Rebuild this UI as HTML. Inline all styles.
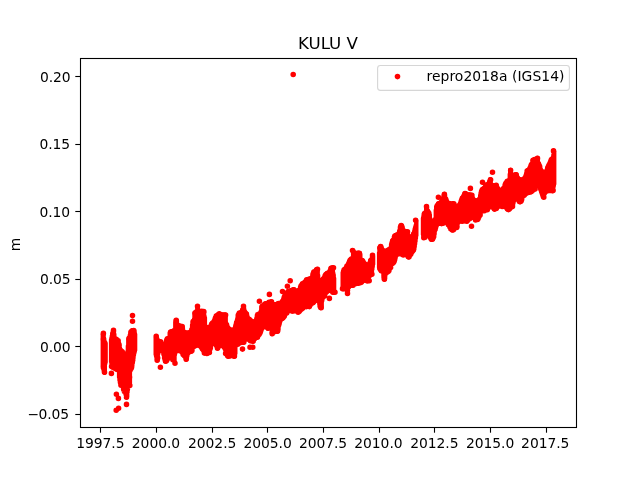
<!DOCTYPE html>
<html><head><meta charset="utf-8"><title>KULU V</title>
<style>
html,body{margin:0;padding:0;background:#fff;}
svg{display:block;}
text{font-family:"DejaVu Sans","Liberation Sans",sans-serif;fill:#000;}
.t{font-size:13.89px;letter-spacing:-0.05px;}
</style></head><body>
<svg width="640" height="480" viewBox="0 0 640 480">
<rect width="640" height="480" fill="#fff"/>
<path fill="none" stroke="#f00" stroke-width="4" stroke-linecap="round" d="M102.6,334.3V365.9M103.0,333.2V368.1M103.4,333.0V370.3M103.8,333.6V371.9M104.2,338.0V372.6M104.6,341.1V372.9M105.0,341.7V372.3M105.4,342.3V364.0M105.8,343.1V362.4M110.9,339.2V361.9M111.3,337.4V363.9M111.7,335.6V365.7M112.1,333.8V366.9M112.5,332.1V367.8M112.9,330.9V368.1M113.3,330.2V368.3M113.7,330.2V368.6M114.1,331.1V368.8M114.5,334.0V369.0M114.9,337.6V369.2M115.3,338.3V369.3M115.7,338.7V369.5M116.1,338.9V369.6M116.5,339.1V369.8M116.9,339.3V370.0M117.3,339.5V370.1M117.7,339.7V370.3M118.1,339.9V370.7M118.5,340.1V371.4M118.9,340.3V377.5M119.3,343.0V380.6M119.7,345.3V382.9M120.1,347.5V383.9M120.5,349.1V384.2M120.9,349.6V384.6M121.3,350.1V384.9M121.7,350.6V385.2M122.1,351.2V385.6M122.5,351.7V386.1M122.9,352.2V389.9M123.3,352.8V390.9M123.7,353.3V391.9M124.1,353.7V392.5M124.5,353.9V393.0M124.9,354.0V393.5M125.3,354.0V394.1M125.7,353.9V394.6M126.1,353.8V395.8M126.5,353.5V397.6M126.9,353.1V397.4M127.3,351.2V396.6M127.7,345.7V392.4M128.1,339.0V390.0M128.5,338.2V387.1M128.9,337.4V386.5M129.3,336.6V386.0M129.7,334.4V385.4M130.1,331.7V384.9M130.5,331.3V371.4M130.9,330.9V370.5M131.3,330.5V369.7M131.7,330.3V368.9M132.1,330.2V368.0M132.5,330.1V365.9M132.9,330.0V363.3M133.3,329.9V360.7M133.7,330.2V358.2M134.1,330.5V355.6M134.5,330.9V353.6M134.9,332.4V352.1M135.3,334.0V350.5M155.5,338.1V354.8M155.9,337.5V356.5M156.3,337.0V358.1M156.7,336.8V359.8M157.1,337.2V360.4M157.5,340.0V360.4M157.9,340.7V359.2M158.3,341.1V354.4M158.7,341.3V352.9M159.1,341.4V351.6M159.5,341.4V351.1M159.9,341.3V350.8M160.3,341.4V350.6M160.7,341.7V350.5M161.1,342.8V350.5M161.5,343.7V350.6M161.9,344.1V350.8M162.3,344.3V351.1M162.7,344.5V351.6M163.1,344.5V352.8M163.5,344.5V354.1M163.9,344.3V358.4M164.3,344.1V359.7M164.7,343.7V360.9M165.1,342.8V361.4M165.5,341.4V361.6M165.9,340.1V361.7M166.3,339.4V361.6M166.7,339.2V361.4M167.1,338.9V361.3M167.5,338.6V360.7M167.9,338.2V359.8M168.3,337.9V358.9M168.7,337.6V358.5M169.1,336.9V358.2M169.5,332.6V358.1M169.9,332.2V358.0M170.3,331.8V358.0M170.7,331.5V358.1M171.1,331.2V358.3M171.5,331.0V358.5M171.9,330.9V358.7M172.3,330.8V358.9M172.7,330.7V359.1M173.1,330.6V359.3M173.5,330.5V359.7M173.9,330.3V360.3M174.3,330.0V361.1M174.7,329.6V361.9M175.1,322.1V355.0M175.5,320.6V353.6M175.9,320.3V352.6M176.3,320.0V351.6M176.7,320.2V351.1M177.1,320.5V350.8M177.5,324.4V350.6M177.9,325.1V350.5M178.3,325.4V350.5M178.7,325.6V350.6M179.1,325.7V350.8M179.5,325.8V351.0M179.9,325.8V351.3M180.3,325.8V351.6M180.7,325.8V351.8M181.1,325.8V352.1M181.5,325.9V352.4M181.9,326.4V353.1M182.3,326.8V354.8M182.7,327.3V355.3M183.1,327.8V355.6M183.5,331.2V355.9M183.9,331.9V356.2M184.3,332.3V356.5M184.7,332.5V356.9M185.1,332.6V357.7M185.5,332.6V358.7M185.9,332.6V359.7M186.3,332.6V359.7M186.7,332.6V359.5M187.1,332.6V358.6M187.5,332.6V356.3M187.9,332.6V354.6M188.3,332.4V353.3M188.7,332.2V352.9M189.1,332.0V352.6M189.5,331.7V352.5M189.9,331.4V352.4M190.3,331.2V352.3M190.7,330.9V352.2M191.1,330.5V352.0M191.5,328.5V351.9M191.9,324.7V351.7M192.3,321.2V351.3M192.7,320.8V351.0M193.1,320.4V348.1M193.5,319.9V347.4M193.9,318.7V347.1M194.3,313.1V346.9M194.7,312.6V346.7M195.1,312.1V346.6M195.5,311.7V346.4M195.9,311.3V346.2M196.3,310.9V346.1M196.7,310.5V345.9M197.1,307.6V345.7M197.5,306.1V345.6M197.9,306.5V345.5M198.3,310.5V345.5M198.7,310.9V345.6M199.1,311.2V345.8M199.5,311.3V346.1M199.9,311.4V346.6M200.3,311.4V347.2M200.7,311.3V347.8M201.1,311.2V348.3M201.5,311.2V348.9M201.9,311.1V349.4M202.3,311.0V350.0M202.7,311.0V350.5M203.1,310.9V350.9M203.5,311.3V351.3M203.9,311.7V351.7M204.3,312.1V352.1M204.7,316.0V352.5M205.1,317.4V352.9M205.5,326.5V353.1M205.9,327.0V353.3M206.3,327.3V353.6M206.7,327.5V353.8M207.1,327.6V353.9M207.5,327.6V353.7M207.9,327.5V353.5M208.3,327.3V353.4M208.7,327.2V353.1M209.1,327.0V352.5M209.5,326.9V351.9M209.9,326.6V351.3M210.3,326.2V350.5M210.7,325.4V349.4M211.1,323.5V348.4M211.5,322.9V345.6M211.9,322.6V344.4M212.3,322.3V344.0M212.7,322.0V343.8M213.1,321.4V343.6M213.5,320.8V343.6M213.9,320.2V343.6M214.3,319.6V343.8M214.7,318.3V344.0M215.1,316.9V344.4M215.5,315.6V345.1M215.9,315.3V346.0M216.3,315.0V346.8M216.7,314.7V347.6M217.1,314.4V348.0M217.5,314.2V348.3M217.9,314.1V348.4M218.3,314.0V348.1M218.7,313.9V347.7M219.1,313.8V347.1M219.5,313.7V346.5M219.9,313.8V346.1M220.3,313.9V345.8M220.7,314.1V345.6M221.1,314.2V345.6M221.5,314.3V345.6M221.9,314.4V345.7M222.3,314.5V345.9M222.7,314.5V346.2M223.1,314.5V346.7M223.5,314.4V347.4M223.9,314.4V348.0M224.3,314.4V348.7M224.7,314.3V349.4M225.1,314.3V350.5M225.5,314.8V352.4M225.9,315.6V353.8M226.3,322.6V354.8M226.7,323.8V355.8M227.1,325.0V356.1M227.5,326.2V356.3M227.9,326.9V356.5M228.3,327.3V356.8M228.7,327.7V356.7M229.1,328.2V356.6M229.5,328.6V356.5M229.9,329.0V356.4M230.3,329.3V356.3M230.7,329.5V356.2M231.1,329.6V356.1M231.5,329.8V356.1M231.9,330.0V356.2M232.3,330.1V356.3M232.7,330.1V356.4M233.1,330.0V356.5M233.5,329.8V356.7M233.9,329.5V356.8M234.3,329.0V356.7M234.7,327.2V356.5M235.1,325.3V356.2M235.5,324.2V353.7M235.9,323.0V346.4M236.3,321.9V345.8M236.7,320.1V345.1M237.1,318.3V344.5M237.5,314.8V344.1M237.9,314.3V343.8M238.3,313.7V343.6M238.7,313.5V343.5M239.1,313.2V343.4M239.5,312.9V343.2M239.9,312.7V343.1M240.3,312.4V343.0M240.7,312.1V342.8M241.1,311.7V342.8M241.5,311.1V342.8M241.9,310.6V342.8M242.3,310.1V342.8M242.7,308.1V342.9M243.1,306.4V342.9M243.5,306.1V342.8M243.9,306.4V342.4M244.3,307.9V340.8M244.7,310.3V340.1M245.1,311.0V339.7M245.5,311.8V339.4M245.9,312.5V339.3M246.3,313.1V339.3M246.7,313.8V339.3M247.1,314.5V339.4M247.5,315.6V339.6M247.9,316.9V339.7M248.3,318.0V339.9M248.7,318.4V340.0M249.1,318.7V340.2M249.5,318.9V340.4M249.9,319.2V340.7M250.3,319.5V340.9M250.7,319.7V341.2M251.1,320.1V341.3M251.5,320.6V341.5M251.9,321.0V341.6M252.3,321.3V341.7M252.7,321.6V341.8M253.1,321.7V341.6M253.5,321.7V341.3M253.9,321.7V340.9M254.3,321.6V339.5M254.7,321.3V338.8M255.1,320.9V338.4M255.5,320.2V338.2M255.9,319.4V338.0M256.3,318.6V337.9M256.7,315.0V337.8M257.1,314.1V337.6M257.5,313.9V337.2M257.9,313.8V336.8M258.3,313.6V336.4M258.7,313.5V336.0M259.1,313.3V335.6M259.5,313.1V335.2M259.9,312.9V334.8M260.3,312.5V334.3M260.7,311.3V333.5M261.1,306.4V332.6M261.5,305.8V331.3M261.9,305.5V329.9M262.3,305.2V329.2M262.7,304.9V328.6M263.1,304.6V328.0M263.5,304.3V327.4M263.9,304.1V327.1M264.3,303.9V326.9M264.7,303.8V326.8M265.1,303.6V326.8M265.5,303.5V326.8M265.9,303.3V327.0M266.3,303.2V327.2M266.7,303.1V327.7M267.1,303.0V328.3M267.5,302.9V328.8M267.9,302.7V328.6M268.3,302.6V328.3M268.7,302.5V328.1M269.1,302.3V328.0M269.5,302.1V328.0M269.9,301.8V328.1M270.3,301.6V328.2M270.7,301.4V328.5M271.1,301.3V328.9M271.5,301.5V333.0M271.9,301.7V334.2M272.3,303.1V334.0M272.7,303.7V333.7M273.1,304.0V333.1M273.5,304.2V332.4M273.9,304.2V332.1M274.3,304.2V331.9M274.7,304.2V331.8M275.1,304.1V331.8M275.5,304.0V331.8M275.9,303.9V331.8M276.3,303.8V331.9M276.7,303.7V331.9M277.1,303.6V331.9M277.5,303.5V331.7M277.9,303.5V331.4M278.3,303.3V331.2M278.7,303.2V329.8M279.1,303.0V325.5M279.5,302.9V324.4M279.9,302.8V323.4M280.3,302.6V322.2M280.7,302.5V321.1M281.1,302.3V320.2M281.5,301.9V319.7M281.9,301.3V319.4M282.3,300.5V319.2M282.7,299.8V319.0M283.1,298.3V318.8M283.5,296.7V318.5M283.9,296.1V318.1M284.3,295.6V317.6M284.7,295.1V317.1M285.1,294.5V316.4M285.5,293.9V314.3M285.9,293.3V313.2M286.3,292.7V312.8M286.7,292.2V312.5M287.1,291.9V312.3M287.5,291.6V312.0M287.9,291.3V311.7M288.3,291.2V311.4M288.7,291.0V311.2M289.1,290.9V311.1M289.5,290.8V311.1M289.9,290.6V311.2M290.3,290.5V311.2M290.7,290.4V311.3M291.1,290.2V311.4M291.5,290.0V311.5M291.9,289.8V311.6M292.3,289.5V311.7M292.7,289.3V311.7M293.1,289.2V311.6M293.5,289.1V311.5M293.9,289.1V311.5M294.3,289.2V311.4M294.7,289.5V311.3M295.1,290.3V311.3M295.5,290.8V311.2M295.9,291.1V311.1M296.3,291.3V311.1M296.7,291.4V311.2M297.1,291.4V311.3M297.5,291.3V311.6M297.9,291.1V311.9M298.3,290.8V312.3M298.7,290.3V312.2M299.1,289.4V311.9M299.5,288.5V311.6M299.9,286.4V311.3M300.3,285.5V311.0M300.7,285.1V310.7M301.1,284.8V310.4M301.5,284.4V310.1M301.9,284.0V309.7M302.3,283.7V309.3M302.7,283.3V308.8M303.1,282.9V308.4M303.5,282.5V308.0M303.9,282.1V307.6M304.3,281.7V307.2M304.7,281.3V307.0M305.1,280.9V306.8M305.5,280.5V306.8M305.9,280.2V306.8M306.3,279.8V306.8M306.7,279.6V306.9M307.1,279.6V307.0M307.5,279.6V307.0M307.9,279.5V307.1M308.3,279.5V307.1M308.7,279.4V306.2M309.1,279.2V305.6M309.5,278.9V305.2M309.9,278.6V305.0M310.3,278.2V304.7M310.7,277.9V304.4M311.1,277.5V304.1M311.5,277.2V303.9M311.9,276.7V303.7M312.3,275.2V303.6M312.7,272.6V303.5M313.1,271.5V303.4M313.5,271.3V303.3M313.9,271.1V303.1M314.3,270.9V302.6M314.7,270.8V302.1M315.1,270.5V301.6M315.5,270.0V301.1M315.9,269.5V300.8M316.3,269.1V300.6M316.7,269.0V300.5M317.1,268.8V300.5M317.5,269.0V300.6M317.9,269.8V300.8M318.3,275.0V301.1M318.7,278.7V301.6M319.1,279.4V304.2M319.5,279.8V307.0M319.9,280.0V307.8M320.3,280.1V308.3M320.7,280.1V308.3M321.1,280.0V307.9M321.5,279.9V307.5M321.9,279.6V306.2M322.3,279.3V301.5M322.7,278.9V299.8M323.1,278.5V298.1M323.5,278.1V297.4M323.9,277.1V296.9M324.3,275.4V296.4M324.7,274.8V295.8M325.1,274.3V295.3M325.5,273.8V294.7M325.9,273.5V294.0M326.3,273.3V293.3M326.7,273.2V292.6M327.1,273.1V292.1M327.5,272.9V291.8M327.9,272.7V291.5M328.3,272.4V291.3M328.7,271.9V291.1M329.1,271.1V291.0M329.5,270.4V291.0M329.9,269.6V291.0M330.3,268.6V291.0M330.7,267.8V291.0M331.1,267.6V291.0M331.5,267.4V291.0M331.9,267.2V291.1M332.3,267.1V291.3M332.7,267.2V291.6M333.1,267.9V292.1M333.5,273.1V292.7M333.9,274.8V292.7M334.3,278.0V291.6M342.5,272.2V287.8M342.9,270.7V289.1M343.3,269.4V289.4M343.7,269.2V289.4M344.1,269.0V289.3M344.5,268.8V289.3M344.9,268.5V289.3M345.3,268.1V289.3M345.7,267.3V289.5M346.1,265.8V289.8M346.5,265.4V290.2M346.9,265.1V290.2M347.3,264.8V289.6M347.7,264.5V288.9M348.1,263.8V288.3M348.5,262.1V287.7M348.9,260.7V287.0M349.3,260.1V286.6M349.7,259.6V286.3M350.1,259.2V286.2M350.5,259.0V286.1M350.9,258.9V286.1M351.3,258.8V286.1M351.7,258.6V286.1M352.1,258.2V285.7M352.5,257.5V284.9M352.9,250.1V284.3M353.3,250.3V283.9M353.7,250.7V283.7M354.1,251.9V283.6M354.5,252.6V283.6M354.9,252.9V283.6M355.3,253.1V283.7M355.7,253.2V283.8M356.1,253.2V283.8M356.5,253.2V283.9M356.9,253.2V283.9M357.3,253.2V284.0M357.7,253.2V284.0M358.1,253.2V283.9M358.5,253.0V283.9M358.9,252.9V283.8M359.3,252.7V283.8M359.7,252.9V283.7M360.1,253.3V283.6M360.5,254.2V283.4M360.9,259.1V283.2M361.3,259.5V283.0M361.7,259.8V282.9M362.1,260.0V282.3M362.5,260.3V281.7M362.9,260.5V281.2M363.3,260.7V280.8M363.7,261.3V280.6M364.1,262.1V280.5M364.5,262.9V280.5M364.9,263.5V280.6M365.3,264.1V280.7M365.7,264.5V280.9M366.1,264.8V281.0M366.5,264.9V281.2M366.9,265.0V281.3M367.3,265.0V281.4M367.7,264.9V281.3M368.1,264.7V281.3M368.5,264.3V281.0M368.9,263.6V280.5M369.3,262.5V277.0M369.7,261.4V276.6M370.1,260.6V276.1M370.5,260.0V275.7M370.9,259.4V275.3M371.3,258.7V274.8M371.7,257.1V274.2M372.1,255.6V273.3M372.5,254.9V269.4M372.9,255.0V267.0M373.3,256.4V264.6M378.9,252.5V267.7M379.3,247.7V269.0M379.7,246.5V269.9M380.1,246.2V270.6M380.5,246.0V271.2M380.9,246.0V271.4M381.3,246.2V271.6M381.7,246.9V271.8M382.1,248.1V271.9M382.5,248.9V272.2M382.9,249.5V272.7M383.3,250.1V277.4M383.7,250.5V279.3M384.1,250.8V279.6M384.5,250.9V279.7M384.9,251.0V279.5M385.3,251.0V278.6M385.7,250.9V274.4M386.1,250.7V273.7M386.5,250.4V273.3M386.9,250.1V273.1M387.3,249.9V272.9M387.7,249.6V272.7M388.1,249.4V272.4M388.5,249.2V272.2M388.9,249.0V271.9M389.3,248.7V271.6M389.7,248.5V271.0M390.1,248.1V268.3M390.5,246.9V266.2M390.9,243.9V265.1M391.3,242.5V264.7M391.7,241.2V264.4M392.1,240.6V264.2M392.5,240.1V264.0M392.9,239.6V263.8M393.3,239.0V263.6M393.7,236.6V263.4M394.1,235.6V262.9M394.5,235.2V262.4M394.9,235.0V261.8M395.3,234.9V260.5M395.7,234.8V258.7M396.1,234.8V256.8M396.5,234.7V255.7M396.9,234.6V255.3M397.3,234.4V255.0M397.7,234.1V254.8M398.1,233.5V254.5M398.5,232.7V254.2M398.9,231.8V253.9M399.3,229.9V253.7M399.7,226.8V253.6M400.1,225.9V253.6M400.5,225.4V253.7M400.9,225.2V253.8M401.3,225.0V254.1M401.7,225.2V254.3M402.1,225.4V254.6M402.5,226.1V254.9M402.9,227.1V255.1M403.3,229.9V255.1M403.7,230.4V255.1M404.1,230.7V255.0M404.5,230.9V255.0M404.9,231.0V254.9M405.3,231.0V254.9M405.7,231.0V255.0M406.1,231.0V255.2M406.5,231.0V255.6M406.9,231.3V256.1M407.3,232.5V256.7M407.7,234.6V257.2M408.1,235.2V257.3M408.5,235.6V257.5M408.9,236.1V257.4M409.3,236.5V257.2M409.7,236.8V257.0M410.1,236.9V256.1M410.5,237.0V255.2M410.9,237.0V254.4M411.3,236.9V253.9M411.7,236.7V253.3M412.1,236.3V252.8M412.5,235.6V252.4M412.9,234.5V251.9M413.3,233.3V251.4M413.7,232.2V250.8M414.1,230.6V250.1M414.5,228.8V249.4M414.9,227.3V247.1M415.3,226.1V244.3M415.7,224.6V241.4M416.1,219.9V238.6M416.5,220.7V235.8M422.8,218.1V234.7M423.2,216.1V236.0M423.6,214.1V237.1M424.0,213.2V237.5M424.4,212.8V237.8M424.8,212.4V237.7M425.2,212.0V237.4M425.6,211.3V236.8M426.0,207.3V236.2M426.4,206.3V235.8M426.8,206.2V235.6M427.2,207.3V235.5M427.6,210.6V235.5M428.0,211.3V235.6M428.4,211.7V235.7M428.8,211.9V236.0M429.2,212.2V236.4M429.6,212.8V237.7M430.0,214.4V238.7M430.4,218.3V239.2M430.8,219.4V239.8M431.2,220.2V239.9M431.6,220.6V240.0M432.0,220.8V239.8M432.4,221.0V239.6M432.8,221.0V239.4M433.2,221.0V239.0M433.6,220.8V238.5M434.0,220.6V238.0M434.4,220.2V237.2M434.8,219.3V234.2M435.2,218.0V231.1M435.6,210.0V229.9M436.0,206.2V228.8M436.4,205.4V227.7M436.8,204.9V226.6M437.2,204.5V225.5M437.6,204.2V224.6M438.0,203.8V224.2M438.4,203.4V224.0M438.8,203.0V223.8M439.2,202.8V223.7M439.6,202.5V223.6M440.0,202.2V223.4M440.4,201.9V223.4M440.8,201.4V223.4M441.2,200.7V223.5M441.6,200.1V223.7M442.0,199.4V223.8M442.4,198.8V223.9M442.8,198.1V223.9M443.2,196.2V223.8M443.6,194.7V223.7M444.0,194.0V223.6M444.4,193.8V223.4M444.8,193.9V223.1M445.2,195.1V222.8M445.6,198.6V222.5M446.0,199.0V222.3M446.4,199.4V222.2M446.8,199.9V222.2M447.2,201.0V222.3M447.6,202.1V222.4M448.0,202.7V222.7M448.4,203.0V223.1M448.8,203.2V225.0M449.2,203.3V227.4M449.6,203.4V228.3M450.0,203.6V229.2M450.4,203.7V229.5M450.8,203.8V229.8M451.2,203.9V230.0M451.6,203.9V230.2M452.0,203.8V230.4M452.4,203.6V230.5M452.8,203.5V230.6M453.2,203.3V230.5M453.6,203.5V230.4M454.0,203.8V230.3M454.4,204.3V229.9M454.8,204.9V229.1M455.2,205.5V228.3M455.6,205.9V227.9M456.0,206.2V227.6M456.4,206.3V227.4M456.8,206.4V227.2M457.2,206.4V227.0M457.6,206.3V226.7M458.0,206.1V223.8M458.4,205.7V222.6M458.8,205.1V222.2M459.2,204.2V221.9M459.6,203.4V221.8M460.0,202.5V221.8M460.4,201.0V221.8M460.8,199.9V221.8M461.2,199.2V221.8M461.6,198.5V221.8M462.0,197.8V221.8M462.4,197.1V221.7M462.8,196.4V221.6M463.2,195.6V221.5M463.6,194.8V221.4M464.0,194.2V221.3M464.4,193.6V221.2M464.8,193.3V221.1M465.2,193.1V221.1M465.6,193.1V221.2M466.0,193.2V221.4M466.4,193.3V221.6M466.8,193.6V221.6M467.2,194.0V221.3M467.6,194.3V221.1M468.0,194.4V220.8M468.4,194.5V220.2M468.8,194.5V219.7M469.2,194.5V219.2M469.6,194.5V218.9M470.0,194.5V218.7M470.4,194.5V218.6M470.8,194.5V218.4M471.2,194.5V218.3M471.6,194.7V218.2M472.0,195.1V218.1M472.4,197.0V218.0M472.8,198.1V218.0M473.2,198.5V218.1M473.6,198.9V218.3M474.0,199.3V218.6M474.4,199.7V219.0M474.8,200.1V219.3M475.2,200.4V219.6M475.6,200.6V219.7M476.0,200.7V219.8M476.4,200.7V219.9M476.8,200.7V220.0M477.2,200.5V220.1M477.6,200.3V219.8M478.0,200.1V219.5M478.4,199.9V219.3M478.8,199.6V219.0M479.2,199.2V218.3M479.6,197.5V217.3M480.0,195.0V216.3M480.4,192.7V214.2M480.8,190.9V212.7M481.2,190.0V212.2M481.6,189.2V212.0M482.0,189.0V211.8M482.4,188.9V211.6M482.8,188.7V211.4M483.2,188.4V211.2M483.6,188.0V211.0M484.0,187.4V210.8M484.4,186.9V210.6M484.8,186.3V210.4M485.2,185.7V210.3M485.6,185.1V210.1M486.0,184.6V209.9M486.4,184.2V209.8M486.8,184.0V209.6M487.2,183.9V209.3M487.6,183.8V208.9M488.0,183.6V208.5M488.4,183.2V208.1M488.8,182.5V207.7M489.2,181.0V207.3M489.6,179.6V207.0M490.0,179.0V206.8M490.4,179.1V206.8M490.8,179.8V206.8M491.2,183.7V206.8M491.6,184.9V207.0M492.0,185.3V207.3M492.4,185.6V207.7M492.8,185.7V208.1M493.2,185.7V208.5M493.6,185.7V208.8M494.0,185.6V209.1M494.4,185.5V209.4M494.8,185.5V209.7M495.2,185.3V209.6M495.6,185.1V209.3M496.0,184.9V208.5M496.4,185.0V207.7M496.8,185.6V207.2M497.2,186.4V207.0M497.6,187.1V206.8M498.0,187.8V206.7M498.4,188.4V206.6M498.8,189.0V206.6M499.2,189.5V206.5M499.6,189.8V206.4M500.0,190.0V206.3M500.4,190.1V206.2M500.8,190.1V206.2M501.2,190.0V206.1M501.6,189.8V206.1M502.0,189.5V206.2M502.4,189.2V206.4M502.8,188.8V206.6M503.2,188.4V206.7M503.6,188.0V206.9M504.0,186.5V207.1M504.4,184.4V207.2M504.8,183.6V207.4M505.2,182.8V207.6M505.6,182.4V207.8M506.0,182.1V208.2M506.4,181.9V208.8M506.8,181.6V209.4M507.2,181.3V209.7M507.6,181.0V209.8M508.0,180.7V210.0M508.4,180.4V209.9M508.8,180.0V209.8M509.2,178.8V209.7M509.6,174.0V209.6M510.0,170.1V209.5M510.4,169.7V209.0M510.8,169.9V208.5M511.2,173.1V208.0M511.6,174.3V207.4M512.0,174.7V206.9M512.4,174.9V206.4M512.8,175.1V205.8M513.2,175.1V205.2M513.6,175.1V203.5M514.0,174.9V201.7M514.4,174.7V200.0M514.8,174.5V199.4M515.2,174.3V199.0M515.6,174.2V198.8M516.0,174.1V198.7M516.4,174.2V198.7M516.8,174.9V198.7M517.2,175.9V198.9M517.6,176.8V199.2M518.0,177.7V199.6M518.4,178.4V200.2M518.8,178.8V200.8M519.2,179.1V201.4M519.6,179.2V201.8M520.0,179.3V202.2M520.4,179.4V202.2M520.8,179.5V202.2M521.2,179.6V201.9M521.6,179.7V201.5M522.0,179.7V201.2M522.4,179.7V200.1M522.8,179.5V197.5M523.2,179.3V196.3M523.6,178.8V195.9M524.0,178.1V195.5M524.4,177.4V195.2M524.8,176.7V194.9M525.2,175.7V194.6M525.6,174.6V194.3M526.0,173.1V194.1M526.4,170.6V193.9M526.8,170.4V193.7M527.2,170.2V193.5M527.6,170.0V193.3M528.0,169.8V193.2M528.4,169.4V193.0M528.8,168.8V193.0M529.2,167.9V192.9M529.6,167.1V192.9M530.0,166.2V192.8M530.4,165.1V192.7M530.8,164.6V192.5M531.2,164.3V192.4M531.6,164.0V192.2M532.0,163.4V192.0M532.4,160.3V191.6M532.8,159.7V191.3M533.2,159.6V190.9M533.6,159.5V190.5M534.0,159.5V190.1M534.4,159.5V189.8M534.8,159.5V189.5M535.2,159.5V189.1M535.6,159.4V186.9M536.0,159.2V186.2M536.4,158.9V185.8M536.8,158.4V185.6M537.2,157.8V185.5M537.6,158.0V185.5M538.0,159.4V185.6M538.4,163.0V185.7M538.8,163.5V186.0M539.2,164.0V186.4M539.6,164.6V187.7M540.0,165.2V189.4M540.4,165.9V190.5M540.8,168.4V191.7M541.2,169.6V192.8M541.6,170.6V194.1M542.0,171.5V195.3M542.4,172.0V196.5M542.8,172.3V196.9M543.2,172.4V197.3M543.6,172.5V197.3M544.0,172.5V196.4M544.4,172.4V195.1M544.8,172.2V193.9M545.2,171.9V193.2M545.6,171.4V192.4M546.0,170.6V191.8M546.4,169.9V191.4M546.8,168.8V191.2M547.2,167.3V191.1M547.6,166.1V191.1M548.0,165.3V191.1M548.4,164.5V191.1M548.8,163.8V191.1M549.2,162.9V191.1M549.6,162.1V191.1M550.0,161.3V191.1M550.4,160.5V191.1M550.8,159.7V191.1M551.2,159.1V191.1M551.6,158.7V191.1M552.0,158.3V191.2M552.4,157.8V191.3M552.8,156.4V191.1M553.2,154.6V189.9M553.6,150.5V187.7M554.0,150.8V186.0M554.4,151.5V184.2"/>
<path fill="none" stroke="#f00" stroke-width="5.56" stroke-linecap="round" d="M293.2,74.5h0M111.4,373.4h0M116.4,394.3h0M118.4,398.4h0M126.5,404.4h0M118.6,408.2h0M116.2,410.2h0M132.5,315.5h0M132.5,321.3h0M160.4,367.2h0M242.5,349.1h0M250.0,347.2h0M252.8,347.2h0M329.4,298.4h0M347.5,293.4h0M471.5,226.2h0M552.5,190.6h0M492.5,172.2h0M482.5,182.2h0M470.4,188.4h0M438.4,197.2h0M259.4,301.2h0M269.4,294.4h0M282.5,291.5h0M287.4,286.3h0M290.2,280.8h0M132.5,360.3h0M131.5,367.5h0M129.5,377.2h0M103.4,333.4h0M104.5,372.3h0M113.5,330.4h0M133.8,330.6h0M126.5,397.2h0M156.2,336.3h0M160.6,341.8h0M176.2,320.3h0M182.2,326.5h0M197.5,306.3h0M203.8,311.5h0M219.4,314.4h0M225.6,315.0h0M243.5,306.3h0M271.5,301.8h0M293.8,289.7h0M317.5,269.3h0M333.5,267.8h0M157.2,360.3h0M165.6,361.2h0M175.0,363.2h0M186.2,359.2h0M206.9,353.5h0M217.5,348.2h0M228.1,356.2h0M234.4,356.2h0M243.8,342.2h0M253.1,341.2h0M268.1,328.2h0M272.2,333.7h0M277.5,331.2h0M292.5,311.0h0M298.1,312.2h0M309.4,306.6h0M321.2,307.8h0M332.8,292.2h0M335.0,292.2h0M352.5,250.5h0M359.4,253.4h0M372.5,255.3h0M342.5,288.7h0M347.5,290.2h0M353.1,285.3h0M357.5,283.2h0M366.9,280.7h0M380.6,246.5h0M401.2,225.5h0M407.5,231.8h0M415.6,220.3h0M384.4,279.3h0M402.5,254.5h0M408.8,257.0h0M426.5,206.5h0M444.4,194.4h0M453.8,203.8h0M465.0,193.7h0M471.9,195.3h0M490.6,179.7h0M496.2,185.3h0M510.6,170.3h0M516.2,174.7h0M533.1,160.3h0M537.5,158.4h0M553.5,150.9h0M425.0,237.2h0M431.7,239.3h0M442.5,223.2h0M452.5,230.0h0M462.5,221.0h0M466.9,221.2h0M477.5,219.5h0M494.4,209.1h0M508.1,209.3h0M519.4,201.6h0M543.8,197.2h0M549.4,190.3h0M553.1,190.6h0M103.5,339.3h0M103.4,367.4h0M112.8,334.0h0M111.6,366.6h0M116.2,339.2h0M116.9,369.2h0M118.9,344.7h0M119.9,370.7h0M122.2,351.7h0M121.0,385.2h0M126.3,354.3h0M126.4,394.9h0M129.1,338.3h0M129.8,385.5h0M132.5,330.7h0M132.4,361.4h0M157.0,339.9h0M157.7,358.0h0M160.5,343.2h0M160.4,350.2h0M164.2,344.6h0M164.1,354.3h0M167.4,338.8h0M166.6,359.6h0M170.7,332.1h0M171.1,357.8h0M174.0,331.1h0M172.9,359.7h0M177.4,325.0h0M178.6,350.4h0M180.1,326.3h0M180.3,350.7h0M184.2,332.2h0M185.2,355.9h0M188.2,333.2h0M187.7,352.7h0M192.0,329.9h0M191.0,350.9h0M195.1,313.1h0M194.2,346.1h0M198.4,310.9h0M199.2,345.3h0M201.8,311.2h0M202.8,348.5h0M205.6,327.0h0M204.4,353.1h0M208.7,327.6h0M209.4,352.4h0M211.5,324.7h0M210.4,344.3h0M215.4,318.3h0M215.7,344.4h0M219.3,313.8h0M218.0,345.9h0M222.7,315.2h0M222.8,345.7h0M226.6,325.1h0M225.6,353.6h0M230.2,330.0h0M229.5,356.0h0M233.1,330.1h0M234.0,355.8h0M236.6,322.8h0M237.8,344.2h0M239.4,313.1h0M240.5,342.6h0M242.7,310.1h0M243.6,342.3h0M246.4,314.1h0M246.5,338.6h0M249.1,319.3h0M249.9,339.3h0M251.7,321.5h0M250.5,340.8h0M254.3,321.9h0M254.8,338.4h0M257.1,318.3h0M257.4,337.3h0M261.3,311.9h0M260.1,330.0h0M265.4,303.9h0M266.1,326.8h0M269.0,302.4h0M267.7,327.5h0M272.0,304.0h0M273.1,329.2h0M275.7,304.7h0M275.3,331.4h0M278.6,303.6h0M278.7,324.9h0M282.4,301.9h0M281.6,318.6h0M285.6,295.0h0M286.7,313.1h0M288.3,291.6h0M287.7,311.0h0M291.4,290.5h0M292.5,311.0h0M295.0,290.9h0M295.7,310.5h0M298.8,290.5h0M299.1,311.4h0M302.5,283.9h0M302.9,308.1h0M306.7,279.7h0M306.5,306.6h0M309.3,279.1h0M310.1,305.0h0M313.1,274.5h0M312.6,302.8h0M316.7,269.7h0M317.7,300.2h0M320.0,280.6h0M320.5,305.9h0M323.6,278.9h0M324.4,296.1h0M327.5,273.2h0M327.0,291.3h0M331.1,268.4h0M332.0,290.6h0M345.0,269.3h0M345.3,288.8h0M348.8,263.8h0M348.6,286.8h0M351.4,259.0h0M351.0,285.3h0M355.3,253.4h0M356.3,283.4h0M358.4,253.0h0M357.4,283.1h0M362.2,260.6h0M361.8,281.6h0M365.3,264.4h0M365.7,280.2h0M368.0,265.4h0M369.2,280.8h0M370.8,260.6h0M371.9,274.3h0M379.9,247.8h0M380.0,268.5h0M384.0,251.3h0M384.6,274.9h0M386.8,251.1h0M385.9,272.4h0M389.5,249.5h0M390.6,267.5h0M392.9,240.7h0M392.1,263.6h0M397.0,235.0h0M395.7,255.2h0M399.7,231.7h0M399.8,253.7h0M403.6,230.8h0M403.3,255.0h0M407.6,235.0h0M408.1,255.8h0M410.6,237.2h0M410.7,254.2h0M413.6,234.2h0M413.3,250.1h0M424.5,213.7h0M423.8,237.7h0M427.6,211.2h0M427.7,234.8h0M431.5,221.3h0M432.4,239.2h0M435.2,220.2h0M434.8,229.6h0M438.6,203.8h0M439.2,223.2h0M442.5,199.3h0M441.6,223.6h0M445.6,199.0h0M444.3,222.1h0M449.4,203.5h0M448.4,224.8h0M452.4,203.7h0M452.4,229.8h0M456.2,206.3h0M456.7,227.5h0M459.2,205.7h0M458.3,221.6h0M462.4,198.3h0M462.3,221.1h0M465.0,193.6h0M464.5,220.7h0M469.1,195.1h0M469.5,218.8h0M472.2,198.1h0M473.4,217.6h0M475.9,200.7h0M475.6,219.9h0M479.5,199.5h0M480.1,215.1h0M483.3,189.1h0M484.4,210.8h0M486.2,185.2h0M487.3,209.7h0M489.6,182.2h0M489.3,207.0h0M492.4,185.6h0M493.3,206.8h0M495.6,185.5h0M496.3,208.5h0M499.7,190.5h0M498.9,206.0h0M503.2,188.9h0M502.2,206.5h0M507.3,181.4h0M508.5,209.6h0M511.4,175.1h0M512.5,206.6h0M514.6,175.1h0M515.7,199.0h0M517.7,178.5h0M518.8,199.1h0M520.5,180.0h0M520.2,201.6h0M524.0,179.3h0M524.2,195.3h0M528.0,170.6h0M527.2,192.7h0M531.6,164.6h0M531.0,191.6h0M534.6,159.5h0M535.1,189.0h0M538.3,163.6h0M538.4,185.5h0M541.7,171.5h0M542.4,192.5h0M544.5,172.8h0M544.1,193.0h0M547.7,168.4h0M547.0,191.0h0M551.4,159.7h0M550.3,190.5h0"/>
<rect x="80.5" y="58.5" width="496" height="369" fill="none" stroke="#000" stroke-width="1.1"/>
<g stroke="#000" stroke-width="1.1">
<path d="M100.5,427.5v5.2"/><path d="M156.5,427.5v5.2"/><path d="M212.5,427.5v5.2"/><path d="M267.5,427.5v5.2"/><path d="M323.5,427.5v5.2"/><path d="M379.5,427.5v5.2"/><path d="M434.5,427.5v5.2"/><path d="M490.5,427.5v5.2"/><path d="M546.5,427.5v5.2"/><path d="M80.5,76.5h-5.2"/><path d="M80.5,144.5h-5.2"/><path d="M80.5,211.5h-5.2"/><path d="M80.5,279.5h-5.2"/><path d="M80.5,346.5h-5.2"/><path d="M80.5,414.5h-5.2"/>
</g>
<g class="t" text-anchor="middle">
<text x="100.30" y="447.60">1997.5</text><text x="155.98" y="447.60">2000.0</text><text x="212.16" y="447.60">2002.5</text><text x="267.54" y="447.60">2005.0</text><text x="323.02" y="447.60">2007.5</text><text x="378.40" y="447.60">2010.0</text><text x="434.38" y="447.60">2012.5</text><text x="490.06" y="447.60">2015.0</text><text x="545.24" y="447.60">2017.5</text>
</g>
<g class="t" text-anchor="end">
<text x="70.60" y="81.55">0.20</text><text x="70.10" y="149.05">0.15</text><text x="70.10" y="216.55">0.10</text><text x="70.60" y="284.05">0.05</text><text x="70.60" y="351.55">0.00</text><text x="69.10" y="419.05"><tspan style="letter-spacing:-0.85px">−</tspan>0.05</text>
</g>
<text class="t" text-anchor="middle" transform="translate(20.2,244.4) rotate(-90)" style="letter-spacing:0">m</text>
<text x="328" y="49.3" text-anchor="middle" font-size="16.67px">KULU V</text>
<rect x="377.6" y="65.5" width="191.8" height="24.9" rx="2.8" ry="2.8" fill="#fff" fill-opacity="0.8" stroke="#ccc" stroke-opacity="0.8" stroke-width="1.1"/>
<circle cx="397.5" cy="76.6" r="2.78" fill="#f00"/>
<text x="426.5" y="81.4" font-size="13.89px" style="letter-spacing:0.055px">repro2018a (IGS14)</text>
</svg>
</body></html>
